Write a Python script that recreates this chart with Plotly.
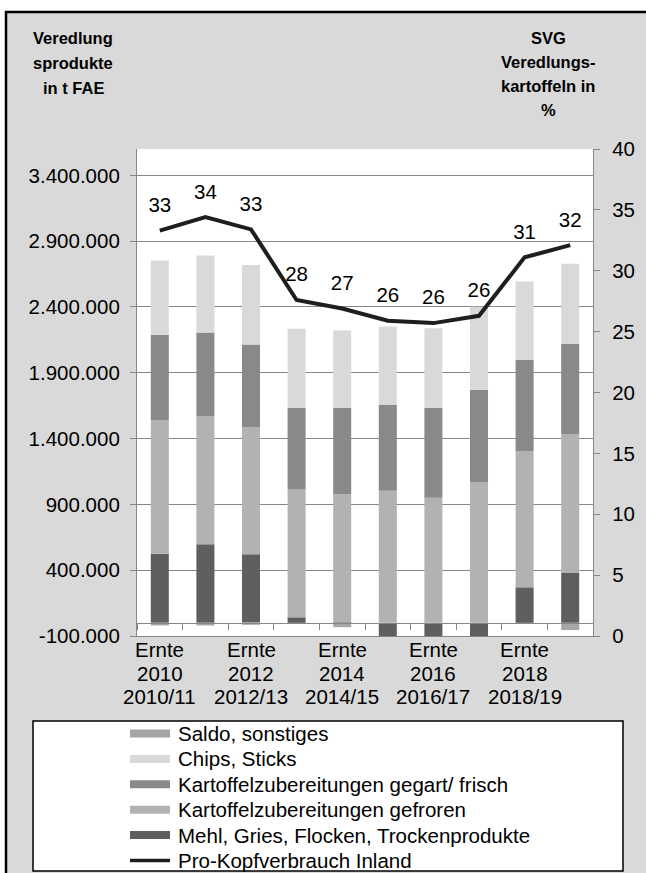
import plotly.graph_objects as go

# ---- data -------------------------------------------------------------
years = ["2010", "2011", "2012", "2013", "2014", "2015", "2016", "2017", "2018", "2019"]
seasons = ["2010/11", "2011/12", "2012/13", "2013/14", "2014/15",
           "2015/16", "2016/17", "2017/18", "2018/19", "2019/20"]

# processed products in t FAE
mehl = [524000, 597000, 521000, 42000, -8000, -112000, -112000, -112000, 270000, 379000]
gefroren = [1017000, 974000, 967000, 974000, 978000, 1003000, 950000, 1070000, 1035000, 1055000]
gegart = [647000, 634000, 626000, 619000, 654000, 652000, 685000, 700000, 693000, 685000]
chips = [565000, 586000, 604000, 599000, 589000, 596000, 604000, 632000, 596000, 609000]
saldo = [-20000, -20000, -15000, 0, -25000, 0, 0, 0, 0, -55000]

# per-capita consumption (right axis, %)
pro_kopf = [33.3, 34.4, 33.4, 27.6, 26.9, 25.9, 25.7, 26.3, 31.1, 32.1]

left_ticks = [-100000, 400000, 900000, 1400000, 1900000, 2400000, 2900000, 3400000]
right_ticks = [0, 5, 10, 15, 20, 25, 30, 35, 40]

categories = [f"Ernte {y} {s}" for y, s in zip(years, seasons)]

# ---- styling ----------------------------------------------------------
W, H = 646, 873
L, R, T, B = 137, 593, 149, 636          # plot area in pixels
FONT = "Liberation Sans, Arial, sans-serif"
FS = 20.5
GRID = "#878787"

C_MEHL = "#5f5f5f"
C_GEFR = "#b2b2b2"
C_GEG = "#898989"
C_CHIPS = "#d9d9d9"
C_SALDO = "#a6a6a6"
C_LINE = "#1e1e1e"


def px(xp):
    return (xp - L) / (R - L)


def py(yp):
    return (B - yp) / (B - T)


def de(v):
    return f"{v:,}".replace(",", ".")


fig = go.Figure()

series = [
    ("Mehl, Gries, Flocken, Trockenprodukte", mehl, C_MEHL),
    ("Kartoffelzubereitungen gefroren", gefroren, C_GEFR),
    ("Kartoffelzubereitungen gegart/ frisch", gegart, C_GEG),
    ("Chips, Sticks", chips, C_CHIPS),
    ("Saldo, sonstiges", saldo, C_SALDO),
]
for name, vals, col in series:
    fig.add_trace(go.Bar(
        x=categories, y=vals, name=name, marker=dict(color=col, line=dict(width=0)),
        xaxis="x", yaxis="y",
    ))

line_name = "Pro-Kopfverbrauch Inland"
fig.add_trace(go.Scatter(
    x=categories, y=pro_kopf, mode="lines", name=line_name,
    line=dict(color=C_LINE, width=4), xaxis="x2", yaxis="y2",
))
fig.add_trace(go.Scatter(
    x=categories, y=pro_kopf, mode="markers+text", name=line_name,
    marker=dict(size=20, color="rgba(0,0,0,0)"),
    texttemplate="%{y:.0f}", textposition="top center",
    textfont=dict(family=FONT, size=FS, color="black"),
    xaxis="x2", yaxis="y2", hoverinfo="skip",
))

n = len(categories)
zero_pos = (0 - left_ticks[0]) / (3600000 - left_ticks[0])

shapes = [
    # chart frame: white surround, grey chart area with a black border
    dict(type="rect", xref="paper", yref="paper", x0=px(6), x1=px(W + 20), y0=py(12), y1=py(H + 20),
         fillcolor="#d9d9d9", line=dict(color="black", width=2.5), layer="below"),
    # white plot area
    dict(type="rect", xref="paper", yref="paper", x0=0, x1=1, y0=0, y1=1,
         fillcolor="white", line=dict(width=0), layer="below"),
    # legend box
    dict(type="rect", xref="paper", yref="paper", x0=px(33), x1=px(623), y0=py(871), y1=py(721),
         fillcolor="white", line=dict(color="black", width=1.5), layer="below"),
]

annotations = []
for i, t in enumerate(["Veredlung", "sprodukte", "in t FAE"]):
    annotations.append(dict(text=f"<b>{t}</b>", xref="paper", yref="paper",
                            x=px(73), y=py(38 + 25 * i), xanchor="center", yanchor="middle",
                            showarrow=False, font=dict(family=FONT, size=16.5, color="black")))
for i, t in enumerate(["SVG", "Veredlungs-", "kartoffeln in", "%"]):
    annotations.append(dict(text=f"<b>{t}</b>", xref="paper", yref="paper",
                            x=px(548), y=py(38 + 24 * i), xanchor="center", yanchor="middle",
                            showarrow=False, font=dict(family=FONT, size=16.5, color="black")))

# category labels under the axis (every second category), one annotation per line
for cat, y, s in list(zip(categories, years, seasons))[::2]:
    for j, part in enumerate(["Ernte", y, s]):
        annotations.append(dict(text=part, xref="x", yref="paper", x=cat,
                                y=py(649.5 + 23.7 * j), xanchor="center", yanchor="middle",
                                showarrow=False, font=dict(family=FONT, size=FS, color="black")))

# legend box entries
legend_rows = [(name, col) for name, _, col in reversed(series)] + [(line_name, C_LINE)]
for k, (name, col) in enumerate(legend_rows):
    yc = 733.5 + 25.4 * k
    if col == C_LINE:
        shapes.append(dict(type="line", xref="paper", yref="paper", x0=px(130), x1=px(170),
                           y0=py(yc), y1=py(yc), line=dict(color=col, width=3.5)))
    else:
        shapes.append(dict(type="rect", xref="paper", yref="paper", x0=px(130), x1=px(170),
                           y0=py(yc + 4), y1=py(yc - 4), fillcolor=col, line=dict(width=0)))
    annotations.append(dict(text=name, xref="paper", yref="paper", x=px(176), y=py(yc),
                            xanchor="left", yanchor="middle", showarrow=False,
                            font=dict(family=FONT, size=FS, color="black")))

tickfont = dict(family=FONT, size=FS, color="black")

fig.update_layout(
    width=W, height=H,
    margin=dict(l=L, r=W - R, t=T, b=H - B, pad=0, autoexpand=False),
    paper_bgcolor="white", plot_bgcolor="rgba(0,0,0,0)",
    barmode="relative", bargap=0.605,
    font=dict(family=FONT, size=FS, color="black"),
    showlegend=False,
    xaxis=dict(type="category", categoryorder="array", categoryarray=categories,
               range=[-0.5, n - 0.5], showticklabels=False, ticks="", showgrid=False,
               showline=True, linecolor=GRID, linewidth=1, automargin=False),
    xaxis2=dict(type="category", categoryorder="array", categoryarray=categories,
                range=[-0.5, n - 0.5], overlaying="x", anchor="free", position=zero_pos,
                showticklabels=False, ticks="outside", ticklen=6, tickcolor=GRID,
                tickson="boundaries", showgrid=False, showline=True, linecolor=GRID,
                linewidth=1.2, automargin=False),
    yaxis=dict(range=[left_ticks[0], 3600000], tickmode="array", tickvals=left_ticks,
               ticktext=[de(v) for v in left_ticks], ticks="outside", ticklen=6,
               tickcolor=GRID, showgrid=True, gridcolor=GRID, gridwidth=1,
               showline=True, linecolor=GRID, linewidth=1.2, zeroline=False,
               tickfont=tickfont, ticklabelstandoff=6, automargin=False),
    yaxis2=dict(range=[0, 40], tickmode="array", tickvals=right_ticks, overlaying="y",
                side="right", anchor="x2", ticks="outside", ticklen=6, tickcolor=GRID,
                showgrid=False, showline=True, linecolor=GRID, linewidth=1.2,
                zeroline=False, tickfont=tickfont, ticklabelstandoff=8, automargin=False),
    shapes=shapes, annotations=annotations,
)

fig.write_html("out.html")
